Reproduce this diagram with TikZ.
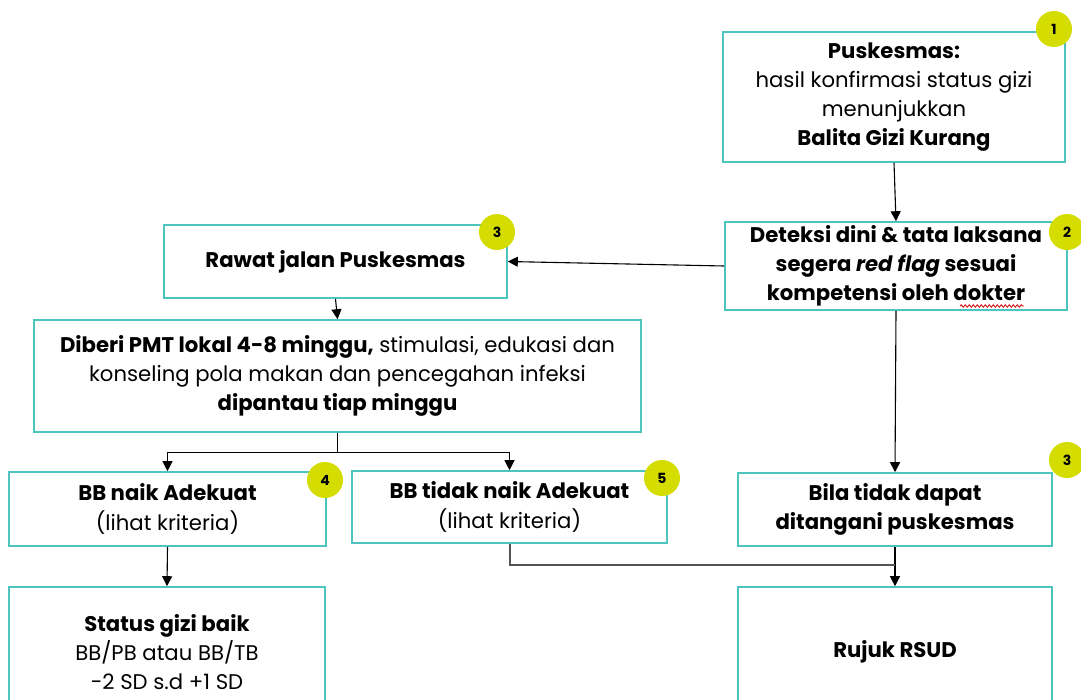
\documentclass[tikz,border=0pt]{standalone}
\usepackage{fontspec}
\setmainfont{Poppins}
\usetikzlibrary{arrows.meta,decorations.pathmorphing,calc}
\definecolor{teal}{RGB}{78,196,190}
\definecolor{badge}{RGB}{212,220,0}
\definecolor{glin}{RGB}{85,85,85}
\tikzset{
  box/.style={draw=teal, line width=1.6pt, fill=white, align=center, inner sep=0pt,
    font=\fontsize{21.2}{29.2}\selectfont},
  badgenode/.style={circle, fill=badge, minimum size=36pt, inner sep=0pt,
    font=\fontsize{14}{14}\selectfont\bfseries},
  arr/.style={draw=black, line width=1.1pt, -{Triangle[width=10pt,length=10pt]}},
  gline/.style={draw=glin, line width=2pt},
}
\begin{document}
\begin{tikzpicture}[x=1pt,y=-1pt]
\useasboundingbox (0,0) rectangle (1081,699);
\fill[white] (0,0) rectangle (1081,699);

\node[box, minimum width=342pt, minimum height=130pt] (b1) at (894,97)
  {\textbf{Puskesmas:}\\hasil konfirmasi status gizi\\menunjukkan\\\textbf{Balita Gizi Kurang}};
\node[box, minimum width=342pt, minimum height=88pt] (b2) at (896,266)
  {\textbf{Deteksi dini \& tata laksana}\\\textbf{segera \textit{red flag} sesuai}\\\textbf{kompetensi oleh dokter}};
\node[box, minimum width=343pt, minimum height=73pt] (rawat) at (335.5,261.5)
  {\textbf{Rawat jalan Puskesmas}};
\node[box, minimum width=607pt, minimum height=112pt] (pmt) at (337.5,376)
  {\textbf{Diberi PMT lokal 4-8 minggu,} stimulasi, edukasi dan\\konseling pola makan dan pencegahan infeksi\\\textbf{dipantau tiap minggu}};
\node[box, minimum width=317pt, minimum height=74pt] (naik) at (167.5,509)
  {\textbf{BB naik Adekuat}\\(lihat kriteria)};
\node[box, minimum width=315pt, minimum height=72pt] (tidak) at (509.5,507)
  {\textbf{BB tidak naik Adekuat}\\(lihat kriteria)};
\node[box, minimum width=314pt, minimum height=73pt] (bila) at (895,509.5)
  {\textbf{Bila tidak dapat}\\\textbf{ditangani puskesmas}};
\node[box, minimum width=316pt, minimum height=130pt] (status) at (167,652)
  {\textbf{Status gizi baik}\\BB/PB atau BB/TB\\-2 SD s.d +1 SD};
\node[box, minimum width=314pt, minimum height=130pt] (rujuk) at (895,652)
  {\textbf{Rujuk RSUD}};

% spell-check squiggle under "dokter"
\draw[red!80!black, line width=0.8pt, decorate, decoration={snake, amplitude=1.2pt, segment length=4pt}]
  (960,306) -- (1024,306);

% badges
\node[badgenode] (n1) at (1054,29) {1};
\node[badgenode] (n2) at (1067,232) {2};
\node[badgenode] (n3a) at (497,232) {3};
\node[badgenode] (n4) at (325,480) {4};
\node[badgenode] (n5) at (662,478) {5};
\node[badgenode] (n3b) at (1067,460) {3};

% connectors
\draw[arr] (b1.south) -- (b2.north);
\draw[arr] (b2.west) -- (rawat.east);
\draw[arr] (rawat.south) -- (pmt.north);
\draw[arr] (pmt.south) -- ++(0,20) -| (naik.north);
\draw[arr] (pmt.south) -- ++(0,20) -| (tidak.north);
\draw[arr] (b2.south) -- (bila.north);
\draw[arr] (bila.south) -- (rujuk.north);
\coordinate (join) at (895,565);
\draw[gline] (tidak.south) |- (join);
\draw[arr] (naik.south) -- (status.north);
\end{tikzpicture}
\end{document}
